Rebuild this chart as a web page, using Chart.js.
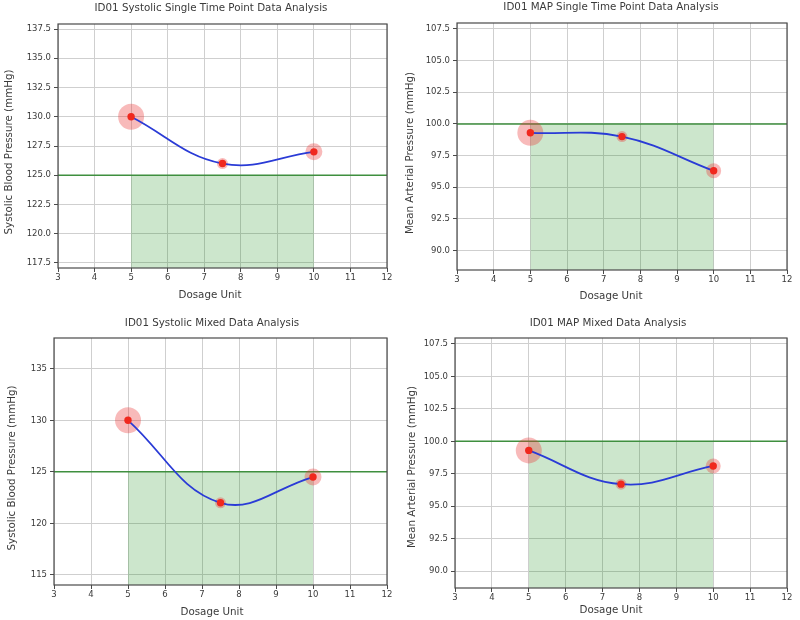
<!DOCTYPE html>
<html>
<head>
<meta charset="utf-8">
<title>ID01 Dosage Analysis</title>
<script src="https://cdn.jsdelivr.net/npm/chart.js@4.4.1/dist/chart.umd.min.js"></script>
<style>
  body { margin: 0; background: #fff; }
  .panel { position: absolute; width: 400px; height: 310px; }
</style>
</head>
<body>
<div class="panel" style="left:0;top:0"><canvas id="sysSingle" width="400" height="310"></canvas></div>
<div class="panel" style="left:400px;top:0"><canvas id="mapSingle" width="400" height="310"></canvas></div>
<div class="panel" style="left:0;top:310px"><canvas id="sysMixed" width="400" height="310"></canvas></div>
<div class="panel" style="left:400px;top:310px"><canvas id="mapMixed" width="400" height="310"></canvas></div>
<script>
// data
const dosage = [5, 7.5, 10];
const systolicSingle = [130, 126, 127];
const mapSingleValues = [99.3, 99.0, 96.3];
const systolicMixed = [130, 122, 124.5];
const mapMixedValues = [99.3, 96.7, 98.1];

const systolicTarget = 125;
const mapTarget = 100;
const targetDoseRange = [5, 10];

const xTicks = [3, 4, 5, 6, 7, 8, 9, 10, 11, 12];
const systolicSingleTicks = [117.5, 120, 122.5, 125, 127.5, 130, 132.5, 135, 137.5];
const systolicMixedTicks = [115, 120, 125, 130, 135];
const mapTicks = [90, 92.5, 95, 97.5, 100, 102.5, 105, 107.5];

const FONT = "'DejaVu Sans', sans-serif";
Chart.defaults.font.family = FONT;
Chart.defaults.color = "#3a3a3a";

// box round the plot area + panel title and axis labels (placed like the matplotlib figure)
const decor = {
    id: "decor",
    afterDatasetsDraw(chart, args, o) {
        const a = chart.chartArea, ctx = chart.ctx;
        ctx.save();
        ctx.strokeStyle = "#4a4a4a";
        ctx.lineWidth = 1.2;
        ctx.strokeRect(a.left, a.top, a.right - a.left, a.bottom - a.top);

        ctx.fillStyle = "#3a3a3a";
        ctx.font = "10.3px " + FONT;
        ctx.textAlign = "center";
        ctx.textBaseline = "middle";
        ctx.fillText(o.title, o.titlePos[0], o.titlePos[1]);
        ctx.fillText("Dosage Unit", o.xLabelPos[0], o.xLabelPos[1]);
        ctx.translate(o.yLabelPos[0], o.yLabelPos[1]);
        ctx.rotate(-Math.PI / 2);
        ctx.fillText(o.yLabel, 0, 0);
        ctx.restore();
    }
};

function pts(ys) {
    return dosage.map((x, i) => ({ x: x, y: ys[i] }));
}

function drawPanel(id, o) {
    const ctx = document.getElementById(id).getContext("2d");
    new Chart(ctx, {
        type: "scatter",
        data: {
            datasets: [
                { // red dots
                    data: pts(o.values), order: 1,
                    pointRadius: 3.7, pointBackgroundColor: "#f0281e", pointBorderWidth: 0
                },
                { // fitted curve
                    data: pts(o.values), order: 2, showLine: true, tension: 0.4,
                    borderColor: "#2a3bd6", borderWidth: 1.8, pointRadius: 0
                },
                { // halos
                    data: pts(o.values), order: 3,
                    pointRadius: o.halo, pointBackgroundColor: "rgba(235,45,45,0.33)", pointBorderWidth: 0
                },
                { // target line
                    data: [{ x: xTicks[0], y: o.target }, { x: xTicks[xTicks.length - 1], y: o.target }],
                    order: 4, showLine: true, borderColor: "#3f8f3f", borderWidth: 1.5, pointRadius: 0
                },
                { // target range shading
                    data: targetDoseRange.map(x => ({ x: x, y: o.target })),
                    order: 5, showLine: true, borderWidth: 0, pointRadius: 0,
                    fill: "start", backgroundColor: "rgba(0,128,0,0.2)"
                }
            ]
        },
        options: {
            responsive: false,
            animation: false,
            devicePixelRatio: 1,
            layout: { padding: { left: 0, right: 400 - o.area[1], top: o.area[2], bottom: 0 } },
            plugins: {
                legend: { display: false },
                tooltip: { enabled: false },
                decor: o
            },
            scales: {
                x: {
                    type: "linear", min: 3, max: 12,
                    afterBuildTicks: s => { s.ticks = xTicks.map(v => ({ value: v })); },
                    afterFit: s => { s.height = 310 - o.area[3]; },
                    grid: { color: "#cfcfcf", tickColor: "#4a4a4a", tickLength: 4 },
                    border: { display: false },
                    ticks: { font: { size: 8.5 }, padding: 1, maxRotation: 0 }
                },
                y: {
                    min: o.yRange[0], max: o.yRange[1],
                    afterBuildTicks: s => { s.ticks = o.yTicks.map(v => ({ value: v })); },
                    afterFit: s => { s.width = o.area[0]; },
                    grid: { color: "#cfcfcf", tickColor: "#4a4a4a", tickLength: 4 },
                    border: { display: false },
                    ticks: {
                        font: { size: 8.5 }, padding: 3,
                        callback: v => v.toFixed(o.decimals)
                    }
                }
            }
        },
        plugins: [decor]
    });
}

// 📊 Systolic, single time point
drawPanel("sysSingle", {
    title: "ID01 Systolic Single Time Point Data Analysis",
    yLabel: "Systolic Blood Pressure (mmHg)",
    values: systolicSingle, target: systolicTarget, yTicks: systolicSingleTicks, decimals: 1,
    yRange: [117.07, 137.93], halo: [13, 5.5, 8.5],
    area: [58, 387, 24, 268],
    titlePos: [211, 8], xLabelPos: [210, 295], yLabelPos: [9, 152]
});

// 📊 MAP, single time point
drawPanel("mapSingle", {
    title: "ID01 MAP Single Time Point Data Analysis",
    yLabel: "Mean Arterial Pressure (mmHg)",
    values: mapSingleValues, target: mapTarget, yTicks: mapTicks, decimals: 1,
    yRange: [88.47, 107.97], halo: [13, 5.5, 7.5],
    area: [57, 391, 23, 270],
    titlePos: [211, 7.5], xLabelPos: [211, 296], yLabelPos: [10, 153]
});

// 📊 Systolic, mixed data
drawPanel("sysMixed", {
    title: "ID01 Systolic Mixed Data Analysis",
    yLabel: "Systolic Blood Pressure (mmHg)",
    values: systolicMixed, target: systolicTarget, yTicks: systolicMixedTicks, decimals: 0,
    yRange: [114.03, 137.98], halo: [13, 5.5, 8.5],
    area: [54, 387, 28, 275],
    titlePos: [212, 13.5], xLabelPos: [212, 302], yLabelPos: [12, 158]
});

// 📊 MAP, mixed data
drawPanel("mapMixed", {
    title: "ID01 MAP Mixed Data Analysis",
    yLabel: "Mean Arterial Pressure (mmHg)",
    values: mapMixedValues, target: mapTarget, yTicks: mapTicks, decimals: 1,
    yRange: [88.7, 107.96], halo: [13, 5.5, 7.5],
    area: [55, 391, 28, 278],
    titlePos: [208, 13.5], xLabelPos: [211, 300], yLabelPos: [12, 157]
});
</script>
</body>
</html>
